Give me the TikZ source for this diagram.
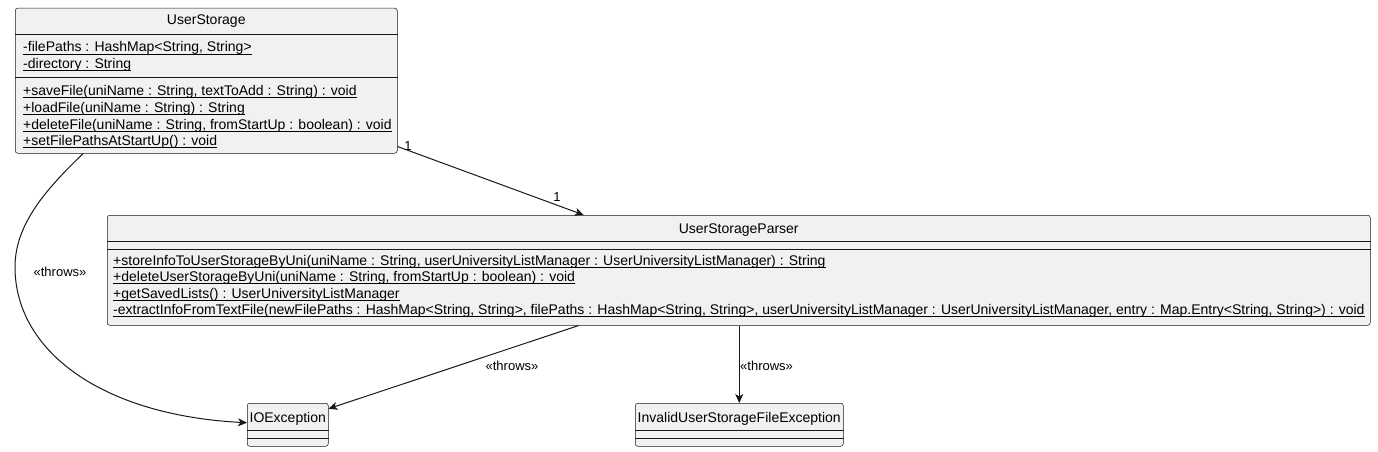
\documentclass[tikz,border=0pt]{standalone}
\usepackage{fontspec}
\setmainfont{Liberation Sans}
\usetikzlibrary{arrows.meta}

\definecolor{umlfill}{HTML}{F1F1F1}
\definecolor{umlline}{HTML}{181818}
\newcommand\umlfont{\fontsize{14}{16}\selectfont}
\newcommand\tagfont{\fontsize{13}{15}\selectfont}
\newcommand\umlstatic[1]{\setbox0\hbox{#1}\rlap{\rule[-2.2pt]{\wd0}{0.6pt}}\box0}

\begin{document}
\begin{tikzpicture}[x=1pt,y=-1pt,
    classbox/.style={draw=umlline,line width=0.5pt,fill=umlfill,rounded corners=2.5pt,anchor=north west,inner sep=0pt},
    member/.style={anchor=base west,inner sep=0pt,font=\umlfont},
    cname/.style={anchor=base,inner sep=0pt,font=\umlfont},
    umlsep/.style={draw=umlline,line width=0.5pt},
    rel/.style={draw=umlline,line width=1pt,-{Stealth[length=9pt,width=8pt,inset=2.5pt]}},
    tag/.style={inner sep=0pt,font=\tagfont}]
    \useasboundingbox (0,0) rectangle (1378,452);

    % UserStorage
    \node[classbox,minimum width=382pt,minimum height=145pt] (us) at (15,8) {};
    \node[cname] (usname) at (us.north |- 0,25) {UserStorage};
    \draw[umlsep] (us.west |- 0,34) -- (us.east |- 0,34);
    \draw[umlsep] (us.west |- 0,77) -- (us.east |- 0,77);
    \node[member] (usa1) at (23,52) {\umlstatic{-filePaths : HashMap<String, String>}};
    \node[member] (usa2) at (23,68.5) {\umlstatic{-directory : String}};
    \node[member] (usm1) at (23,95.5) {\umlstatic{+saveFile(uniName : String, textToAdd : String) : void}};
    \node[member] (usm2) at (23,112.5) {\umlstatic{+loadFile(uniName : String) : String}};
    \node[member] (usm3) at (23,129) {\umlstatic{+deleteFile(uniName : String, fromStartUp : boolean) : void}};
    \node[member] (usm4) at (23,145.5) {\umlstatic{+setFilePathsAtStartUp() : void}};

    % UserStorageParser
    \node[classbox,minimum width=1263pt,minimum height=110pt] (ps) at (107,215) {};
    \node[cname] (psname) at (ps.north |- 0,233) {UserStorageParser};
    \draw[umlsep] (ps.west |- 0,241) -- (ps.east |- 0,241);
    \draw[umlsep] (ps.west |- 0,249) -- (ps.east |- 0,249);
    \node[member] (psm1) at (113,265) {\umlstatic{+storeInfoToUserStorageByUni(uniName : String, userUniversityListManager : UserUniversityListManager) : String}};
    \node[member] (psm2) at (113,281.5) {\umlstatic{+deleteUserStorageByUni(uniName : String, fromStartUp : boolean) : void}};
    \node[member] (psm3) at (113,298) {\umlstatic{+getSavedLists() : UserUniversityListManager}};
    \node[member] (psm4) at (113,314.5) {\umlstatic{-extractInfoFromTextFile(newFilePaths : HashMap<String, String>, filePaths : HashMap<String, String>, userUniversityListManager : UserUniversityListManager, entry : Map.Entry<String, String>) : void}};

    % exceptions
    \node[classbox,minimum width=81pt,minimum height=43pt] (io) at (247,403) {};
    \node[cname] (ioname) at (io.north |- 0,422) {IOException};
    \draw[umlsep] (io.west |- 0,430) -- (io.east |- 0,430);
    \draw[umlsep] (io.west |- 0,438) -- (io.east |- 0,438);
    \node[classbox,minimum width=208pt,minimum height=43pt] (inv) at (635,403) {};
    \node[cname] (invname) at (inv.north |- 0,422) {InvalidUserStorageFileException};
    \draw[umlsep] (inv.west |- 0,430) -- (inv.east |- 0,430);
    \draw[umlsep] (inv.west |- 0,438) -- (inv.east |- 0,438);

    % relations
    \draw[rel] ([yshift=7pt]us.south east) -- ([xshift=-155pt]ps.north);
    \node[tag] (m1) at (408,146) {1};
    \node[tag] (m2) at (557,197) {1};
    \draw[rel] ([xshift=-123pt]us.south) .. controls (45,190) and (15,225) .. (15,267)
        .. controls (15,350) and (100,415) .. ([yshift=2pt]io.west);
    \node[tag] (t1) at (60,272) {«throws»};
    \draw[rel] ([xshift=-160pt]ps.south) -- ([yshift=16pt]io.east);
    \node[tag] (t2) at (512,366) {«throws»};
    \draw[rel] (ps.south -| inv.north) -- (inv.north);
    \node[tag,anchor=west] (t3) at (740,366) {«throws»};
\end{tikzpicture}
\end{document}
